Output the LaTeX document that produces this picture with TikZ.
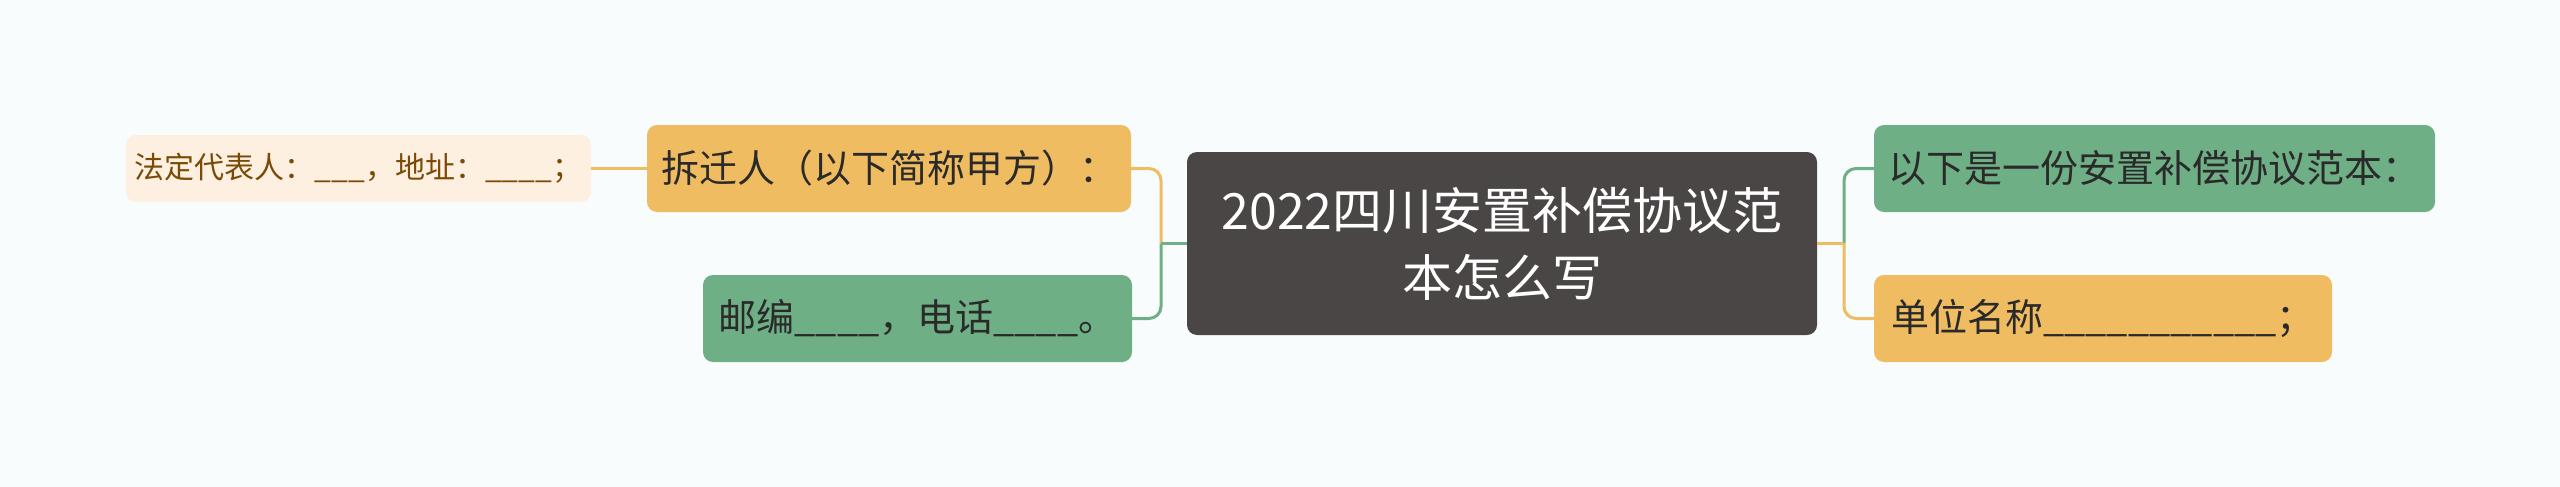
\documentclass[tikz,border=0pt]{standalone}
\usepackage{fontspec}
\newfontfamily\cjk{Noto Sans CJK SC}
\definecolor{bgc}{HTML}{F8FCFC}
\definecolor{orangec}{HTML}{F0BC62}
\definecolor{greenc}{HTML}{6FAF86}
\definecolor{rootc}{HTML}{4A4646}
\definecolor{lightc}{HTML}{FDF0E1}
\definecolor{browntxt}{HTML}{7B4A06}
\definecolor{darktxt}{HTML}{2A2A2A}
\begin{document}
\begin{tikzpicture}[x=1pt,y=-1pt,
  box/.style={rectangle,rounded corners=10pt,inner sep=0pt,anchor=center,align=center},
  lvone/.style={box,text=darktxt,font=\cjk\fontsize{38}{46}\selectfont,minimum height=87pt},
  orangebox/.style={lvone,fill=orangec},
  greenbox/.style={lvone,fill=greenc},
  lightbox/.style={box,fill=lightc,text=browntxt,font=\cjk\fontsize{30}{36}\selectfont,minimum height=67pt,minimum width=465pt},
  rootbox/.style={box,fill=rootc,text=white,font=\cjk\fontsize{50}{67}\selectfont,minimum width=630pt,minimum height=183pt},
  oline/.style={draw=orangec,line width=3pt},
  gline/.style={draw=greenc,line width=3pt},
  rc/.style={rounded corners=12pt}]
\fill[bgc] (0,0) rectangle (2560,487);
\useasboundingbox (0,0) rectangle (2560,487);

\node[rootbox] (root) at (1502,243.5) {2022四川安置补偿协议范\\本怎么写};
\node[orangebox,minimum width=484pt] (chai) at (889,168.5) {拆迁人（以下简称甲方）：};
\node[greenbox,minimum width=429pt] (you) at (917.5,318.5) {邮编\_\_\_\_，电话\_\_\_\_。};
\node[lightbox] (fa) at (358.5,168.5) {法定代表人：\_\_\_，地址：\_\_\_\_；};
\node[greenbox,minimum width=561pt] (yixia) at (2154.5,168.5) {以下是一份安置补偿协议范本：};
\node[orangebox,minimum width=458pt] (danwei) at (2103,318.5) {单位名称\_\_\_\_\_\_\_\_\_\_\_；};

\coordinate (jl) at (1161,243.5);
\coordinate (jr) at (1844,243.5);

% left side
\draw[oline,rc] (jl) |- (chai.east);
\draw[oline] (root.west) -- (jl);
\draw[gline,rc] (jl) |- (you.east);
\draw[gline] (root.west) -- (jl);
\draw[oline] (fa.east) -- (chai.west);

% right side
\draw[gline,rc] (jr) |- (yixia.west);
\draw[gline] (root.east) -- (jr);
\draw[oline,rc] (jr) |- (danwei.west);
\draw[oline] (root.east) -- (jr);
\end{tikzpicture}
\end{document}
